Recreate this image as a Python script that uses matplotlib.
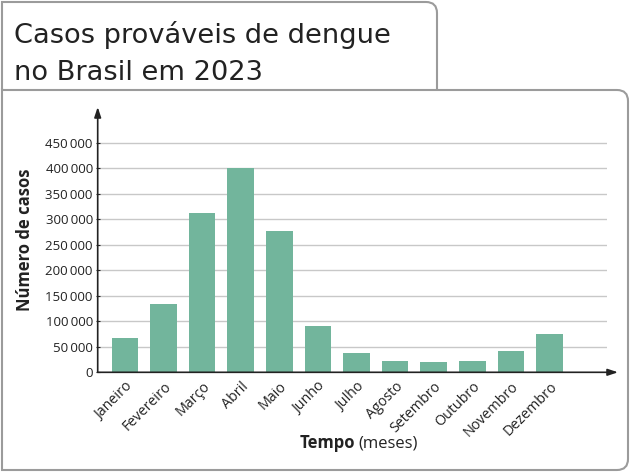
import matplotlib
matplotlib.use("Agg")
import matplotlib.pyplot as plt
from matplotlib.patches import PathPatch
from matplotlib.path import Path

# data
meses = ["Janeiro", "Fevereiro", "Março", "Abril", "Maio", "Junho",
         "Julho", "Agosto", "Setembro", "Outubro", "Novembro", "Dezembro"]
casos = [67000, 133000, 312000, 400000, 277000, 91000,
         37000, 23000, 20000, 23000, 41000, 76000]
yticks = [0, 50000, 100000, 150000, 200000, 250000, 300000, 350000, 400000, 450000]
ytick_labels = ["0" if v == 0 else f"{v // 1000}\u2009000" for v in yticks]

W, H = 630, 472
fig = plt.figure(figsize=(W / 100, H / 100), dpi=100)

# overlay in pixel coordinates for the frames and title
bg = fig.add_axes([0, 0, 1, 1])
bg.set_xlim(0, W)
bg.set_ylim(H, 0)
bg.axis("off")

gray = "#9b9b9b"
r = 11
lw = 1.5
# title box (top-right rounded)
verts = [(2, 90), (2, 2), (437 - r, 2), (437, 2), (437, 2 + r), (437, 90)]
codes = [Path.MOVETO, Path.LINETO, Path.LINETO, Path.CURVE3, Path.CURVE3, Path.LINETO]
bg.add_patch(PathPatch(Path(verts, codes), fill=False, ec=gray, lw=lw,
                       joinstyle="miter", capstyle="butt"))
# main box (right corners rounded)
verts = [(2, 90), (628 - r, 90), (628, 90), (628, 90 + r), (628, 470 - r),
         (628, 470), (628 - r, 470), (2, 470), (2, 88)]
codes = [Path.MOVETO, Path.LINETO, Path.CURVE3, Path.CURVE3, Path.LINETO,
         Path.CURVE3, Path.CURVE3, Path.LINETO, Path.LINETO]
bg.add_patch(PathPatch(Path(verts, codes), fill=False, ec=gray, lw=lw,
                       joinstyle="miter", capstyle="butt"))

bg.text(14, 43, "Casos prováveis de dengue", fontsize=19.6, color="#222222",
        family="DejaVu Sans", va="baseline")
bg.text(14, 80, "no Brasil em 2023", fontsize=19.6, color="#222222",
        family="DejaVu Sans", va="baseline")

# chart area
x0, x1 = 97.7, 607
y0, y1 = 372.3, 107
ax = fig.add_axes([x0 / W, 1 - y0 / H, (x1 - x0) / W, (y0 - y1) / H])
ax.patch.set_alpha(0)
ymax = (y0 - y1) / 25.5 * 50000
ax.set_ylim(0, ymax)
ax.set_xlim(-0.707, 12.49)

ax.bar(range(len(meses)), casos, width=0.69, color="#72b59c", zorder=3)
for v in yticks[1:]:
    ax.axhline(v, color="#c8c8c8", lw=1, zorder=1)

for s in ax.spines.values():
    s.set_visible(False)
ax.annotate("", xy=(0, 1), xytext=(0, 0), xycoords="axes fraction",
            arrowprops=dict(arrowstyle="-|>,head_length=0.6,head_width=0.2",
                            color="#222222", lw=1.2, shrinkA=0, shrinkB=0))
ax.annotate("", xy=(1 + 11 / (x1 - x0), 0), xytext=(0, 0), xycoords="axes fraction",
            arrowprops=dict(arrowstyle="-|>,head_length=0.6,head_width=0.2",
                            color="#222222", lw=1.2, shrinkA=0, shrinkB=0))

ax.set_yticks(yticks)
ax.set_yticklabels(ytick_labels, family="Open Sans", fontsize=9.5, color="#222222")
ax.tick_params(axis="y", length=3, width=0.8, pad=2, color="#222222", direction="inout")
ax.set_xticks(range(len(meses)))
ax.set_xticklabels(meses, rotation=45, ha="right", rotation_mode="anchor",
                   family="Open Sans", fontsize=10.3, color="#222222")
ax.tick_params(axis="x", length=0, pad=5)

fig.text(25 / W, 1 - 240 / H, "Número de casos", rotation=90, ha="center", va="center",
         family="Open Sans", fontweight="bold", fontsize=12, color="#222222")
bg.text(355, 443, "Tempo", ha="right", va="center", family="Open Sans",
        fontweight="bold", fontsize=12, color="#222222")
bg.text(358, 443, "(meses)", ha="left", va="center", family="Open Sans",
        fontsize=12, color="#222222")

fig.savefig("out.png", dpi=100)
